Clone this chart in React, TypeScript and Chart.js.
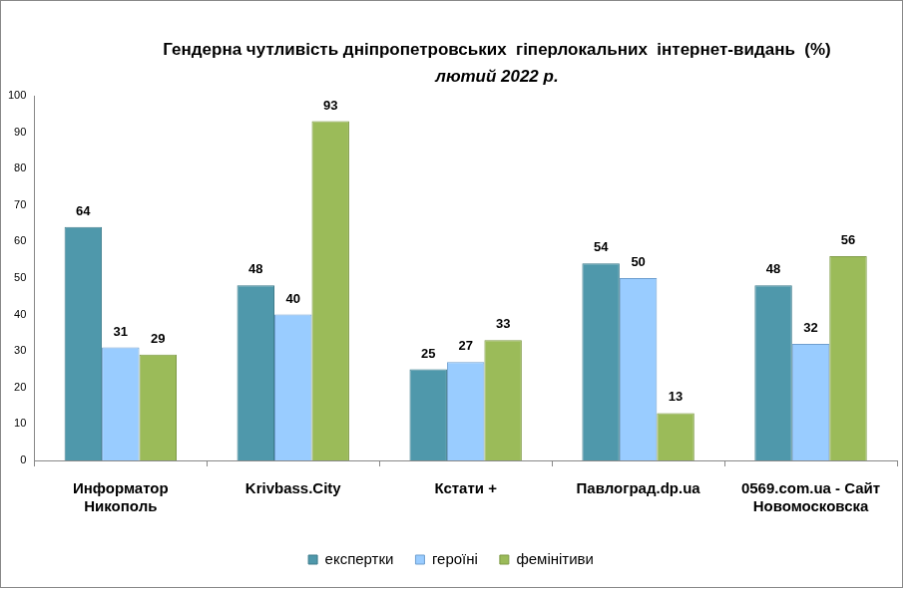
import React, { useEffect, useRef } from "react";
import { Chart, registerables } from "chart.js";
Chart.register(...registerables);

const categories = [["Информатор", "Никополь"], ["Krivbass.City"], ["Кстати +"], ["Павлоград.dp.ua"], ["0569.com.ua - Сайт", "Новомосковска"]];
const seriesNames = ["експертки", "героїні", "фемінітиви"];
const experts = [64, 48, 25, 54, 48];
const heroines = [31, 40, 27, 50, 32];
const feminitives = [29, 93, 33, 13, 56];
const colors = ["#4F98AB", "#99CCFF", "#9BBB59"];
const borders = ["#3E7C8C", "#6F9FCF", "#7E9A45"];
const titleLine1 = "Гендерна чутливість дніпропетровських  гіперлокальних  інтернет-видань  (%)";
const titleLine2 = "лютий 2022 р.";

const labelsPlugin = {
  id: "labels",
  afterDatasetsDraw(chart: any) {
    const ctx = chart.ctx;
    ctx.save();
    ctx.font = "bold 13px Arial, 'Liberation Sans'";
    ctx.fillStyle = "#000";
    ctx.textAlign = "center";
    ctx.textBaseline = "bottom";
    chart.data.datasets.forEach((ds: any, i: number) => {
      chart.getDatasetMeta(i).data.forEach((bar: any, j: number) => {
        ctx.fillText(String(ds.data[j]), bar.x, bar.y - 9);
      });
    });
    ctx.restore();
  },
};

const titlePlugin = {
  id: "titles",
  afterDraw(chart: any) {
    const ctx = chart.ctx;
    ctx.save();
    ctx.fillStyle = "#000";
    ctx.textAlign = "center";
    ctx.textBaseline = "middle";
    ctx.font = "bold 17px Arial, 'Liberation Sans'";
    ctx.fillText(titleLine1, 497, 49);
    ctx.font = "italic bold 17px Arial, 'Liberation Sans'";
    ctx.fillText(titleLine2, 497, 76);
    ctx.restore();
  },
};

export default function App() {
  const ref = useRef<HTMLCanvasElement>(null);
  useEffect(() => {
    const data = [experts, heroines, feminitives];
    const chart = new Chart(ref.current!, {
      type: "bar",
      data: {
        labels: categories as any,
        datasets: seriesNames.map((n, i) => ({
          label: n,
          data: data[i],
          backgroundColor: colors[i],
          borderColor: borders[i],
          borderWidth: 1,
          categoryPercentage: 0.65,
          barPercentage: 1,
        })),
      },
      options: {
        animation: false,
        responsive: false,
        layout: { padding: { top: 95, right: 5, left: 4, bottom: 10 } },
        plugins: {
          legend: {
            position: "bottom",
            labels: { boxWidth: 9, boxHeight: 9, font: { size: 15, family: "Arial, 'Liberation Sans'" }, color: "#000", padding: 22 },
          },
          tooltip: { enabled: false },
        },
        scales: {
          y: {
            min: 0, max: 100,
            ticks: { stepSize: 10, font: { size: 11, family: "Arial, 'Liberation Sans'" }, color: "#000" },
            grid: { display: false, drawTicks: true, tickLength: 5 },
            border: { color: "#888" },
          },
          x: {
            ticks: { font: { size: 15, weight: "bold", family: "Arial, 'Liberation Sans'" }, color: "#000", padding: 14 },
            grid: { display: true, drawOnChartArea: false, offset: true, tickLength: 6, color: "#888" },
            border: { color: "#888" },
          },
        },
      },
      plugins: [labelsPlugin, titlePlugin],
    });
    return () => chart.destroy();
  }, []);
  return (
    <div style={{ position: "absolute", left: 0, top: 0, width: 909, height: 593, background: "#fff" }}>
      <canvas ref={ref} width={903} height={588} style={{ border: "1px solid #888", display: "block" }} />
    </div>
  );
}
